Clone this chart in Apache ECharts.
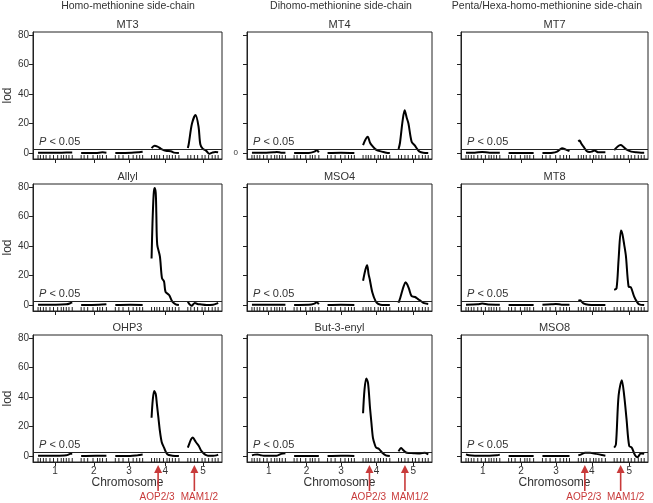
<!DOCTYPE html>
<html>
<head>
<meta charset="utf-8">
<script src="https://cdn.jsdelivr.net/npm/echarts@6.0.0/dist/echarts.min.js"></script>
<style>
  html, body { margin: 0; padding: 0; background: #fff; }
  #main { width: 653px; height: 503px; }
</style>
</head>
<body>
<div id="main"></div>
<script>
// chromosome layout (cM)
const chrLengths = [115, 85, 92, 92, 102];
const chrGap = 30;
const chrLabels = ['1', '2', '3', '4', '5'];
// marker positions along each chromosome (cM)
const markerPos = [
  [0, 8, 18, 27, 40, 52, 66, 78, 86, 95, 104, 115],
  [0, 10, 22, 40, 55, 63, 72, 85],
  [0, 12, 26, 45, 60, 72, 82, 92],
  [0, 10, 18, 27, 40, 52, 60, 70, 80, 92],
  [0, 10, 22, 33, 48, 58, 70, 82, 92, 102]
];
const groupTitles = ['Homo-methionine side-chain', 'Dihomo-methionine side-chain', 'Penta/Hexa-homo-methionine side-chain'];
const traitNames = ['MT3', 'MT4', 'MT7', 'Allyl', 'MSO4', 'MT8', 'OHP3', 'But-3-enyl', 'MSO8'];
const lodTicks = [0, 20, 40, 60, 80];
const threshold = 2.3;
const geneNames = ['AOP2/3', 'MAM1/2'];
const geneChr = [4, 5];
const genePos = [22, 22];

// lod profiles: per chromosome, [cM, lod]
const lodMT3 = [
  [[0, 0.3], [40, 0.2], [80, 0.3], [115, 0.4]],
  [[0, 0], [50, 0.1], [72, 0.5], [85, 0.3]],
  [[0, 0], [55, 0.2], [80, 0.6], [92, 0.9]],
  [[0, 3.4], [10, 5], [20, 4.4], [31, 3], [48, 1.5], [65, 1.3], [75, 0.3], [92, 0]],
  [[0, 3.5], [3, 6], [14, 20], [26, 25.8], [36, 18], [42, 6], [50, 3], [62, 1.5], [72, -0.5], [82, 0.3], [92, 0.8], [102, 0.6]]
];
const lodMT4 = [
  [[0, 0.2], [50, 0.2], [75, 0.5], [85, 0.8], [100, 0.3], [115, 0.3]],
  [[0, 0], [50, 0.1], [70, 1], [78, 2], [85, 0.5]],
  [[0, 0], [46, 0.2], [92, 0]],
  [[0, 5.4], [8, 9], [16, 11], [24, 7], [31, 5], [43, 2.5], [55, 1.5], [65, 1], [80, 0.2], [92, 0]],
  [[0, 2.7], [5, 7], [14, 22], [21, 29], [28, 24], [34, 20], [45, 7.7], [55, 5.4], [65, 2.5], [72, 1], [85, 0.2], [102, 0]]
];
const lodMT7 = [
  [[0, 0.3], [30, 0.3], [55, 0.8], [80, 0.3], [115, 0.3]],
  [[0, 0.1], [40, 0], [85, 0]],
  [[0, 0], [35, 0.2], [50, 1], [60, 2.5], [67, 3.3], [78, 2.5], [92, 1.3]],
  [[0, 7.9], [4, 8.5], [10, 6.5], [17, 4.5], [28, 1.5], [38, 0.8], [45, 1], [55, 1.8], [68, 0.5], [92, 0.5]],
  [[0, 2], [12, 4.5], [22, 5.4], [30, 4.5], [41, 2.5], [58, 1], [75, 0.5], [92, 0.3], [102, 0.3]]
];
const lodAllyl = [
  [[0, 0.2], [60, 0.2], [95, 0.5], [108, 1.2], [115, 1.8]],
  [[0, 0], [60, 0.2], [85, 0.5]],
  [[0, 0], [50, 0.2], [92, 0.1]],
  [[0, 31.5], [3, 55], [7, 75], [10, 79.3], [14, 76], [16, 62], [19, 41], [28, 33], [35, 18.3], [42, 16], [47, 9], [59, 6.8], [70, 2.3], [81, 0.5], [92, 0]],
  [[0, 2.3], [6, 0.5], [12, -0.5], [18, 0.5], [24, 1.4], [32, 0.8], [41, 0.5], [63, 0], [85, 0.3], [97, 1], [102, 1.5]]
];
const lodMSO4 = [
  [[0, 0.3], [60, 0.3], [115, 0.3]],
  [[0, 0.1], [50, 0.2], [70, 1], [78, 2], [85, 0.6]],
  [[0, 0], [46, 0.2], [92, 0.1]],
  [[0, 16.5], [8, 24], [14, 27], [19, 21], [23, 17.5], [32, 8.5], [43, 2.7], [52, 0.8], [60, 0.3], [92, 0]],
  [[0, 1.6], [6, 5], [11, 8.5], [18, 13], [24, 15.4], [30, 14], [36, 11], [45, 6], [57, 5.5], [67, 4], [74, 3.2], [85, 1.5], [102, 0.8]]
];
const lodMT8 = [
  [[0, 0.3], [40, 0.5], [55, 1], [75, 0.4], [115, 0.3]],
  [[0, 0], [42, 0.1], [85, 0]],
  [[0, 0.2], [30, 0.5], [45, 0.8], [65, 0.3], [92, 0.2]],
  [[0, 3], [6, 3.2], [17, 1.2], [34, 0.3], [92, 0]],
  [[0, 10.3], [8, 11.4], [15, 31], [23, 50.5], [28, 48], [34, 41], [40, 33], [49, 12.5], [57, 12], [68, 5.7], [78, 2], [85, 0.5], [102, 0]]
];
const lodOHP3 = [
  [[0, 0.2], [60, 0.2], [95, 0.5], [108, 1.5], [115, 1.6]],
  [[0, 0], [50, 0.2], [85, 0.2]],
  [[0, 0], [50, 0.1], [75, 0.6], [92, 1]],
  [[0, 26], [4, 38], [9, 44], [14, 42], [18, 35], [23, 26], [28, 17], [34, 9.6], [42, 5.7], [53, 1.2], [70, 0.3], [92, 0]],
  [[0, 5.7], [6, 9], [11, 11.4], [17, 12.6], [24, 10.5], [28, 9.2], [37, 6.9], [44, 4], [51, 2.3], [60, 0.8], [68, 0.3], [85, 0.2], [96, 0.5], [102, 1]]
];
const lodBut3enyl = [
  [[0, 0.5], [10, 1], [19, 1.1], [30, 0.6], [41, 0.2], [85, 0.3], [101, 1.5], [115, 2]],
  [[0, 0], [42, 0.1], [85, 0]],
  [[0, 0], [46, 0.3], [70, 0.2], [92, 0]],
  [[0, 29], [5, 45], [11, 52.5], [17, 49.6], [24, 32.4], [29, 22], [34, 12.3], [40, 8], [45, 5.7], [54, 5], [66, 2.3], [78, 0.5], [92, 0]],
  [[0, 3.2], [9, 5.5], [17, 3.9], [28, 2.3], [51, 2], [74, 1.8], [91, 2.3], [102, 1]]
];
const lodMSO8 = [
  [[0, 1.2], [10, 0.6], [30, 0.3], [80, 0.3], [105, 0.6], [115, 1]],
  [[0, 0], [42, 0.1], [85, 0]],
  [[0, 0], [46, 0.1], [92, 0]],
  [[0, 0.5], [10, 1.2], [23, 2.3], [40, 2.3], [61, 1.5], [80, 0.8], [92, 0.3]],
  [[0, 5.7], [6, 8], [15, 41], [26, 51.4], [34, 41], [42, 25], [51, 6.9], [60, 5.7], [71, 0.5], [79, -0.7], [91, 1.8], [102, 1.5]]
];
const traitLods = [lodMT3, lodMT4, lodMT7, lodAllyl, lodMSO4, lodMT8, lodOHP3, lodBut3enyl, lodMSO8];

// layout
const font = 'Liberation Sans, Arial, sans-serif';
const textCol = '#333';
const red = '#c83a3a';
const gridLeft = [33, 247, 461];
const gridWidth = [189, 185, 187];
const gridTop = [32, 184, 335];
const gridHeight = 127;
const groupTitleX = [128, 341, 547];
const xMin = -17, xMax = 619, yMin = -4, yMax = 82;

// chromosome offsets on the shared x scale
const chrStart = [];
let acc = 0;
chrLengths.forEach((len, i) => { chrStart.push(acc); acc += len + chrGap; });
const chrMid = chrLengths.map((len, i) => chrStart[i] + len / 2);
const rugData = [];
markerPos.forEach((ms, i) => ms.forEach(m => rugData.push([chrStart[i] + m, yMin])));
const geneData = geneNames.map((g, i) => [chrStart[geneChr[i] - 1] + genePos[i], yMin, g]);

const chart = echarts.init(document.getElementById('main'));

const grids = [], xAxes = [], yAxes = [], series = [], titles = [];

groupTitles.forEach((t, c) => {
  titles.push({
    text: t, left: groupTitleX[c], top: 1, textAlign: 'center', padding: 0,
    textStyle: { fontSize: 10.5, fontWeight: 'normal', color: textCol, fontFamily: font }
  });
});

traitNames.forEach((name, p) => {
  const row = Math.floor(p / 3), col = p % 3;
  grids.push({
    left: gridLeft[col], top: gridTop[row], width: gridWidth[col], height: gridHeight,
    show: true, borderColor: '#222', borderWidth: 1, backgroundColor: 'transparent'
  });
  titles.push({
    text: name, left: gridLeft[col] + gridWidth[col] / 2, top: gridTop[row] - 13, textAlign: 'center', padding: 0,
    textStyle: { fontSize: 11, fontWeight: 'normal', color: textCol, fontFamily: font }
  });
  xAxes.push({
    type: 'value', gridIndex: p, min: xMin, max: xMax,
    axisLine: { show: true, onZero: false, lineStyle: { color: '#222' } },
    splitLine: { show: false },
    axisTick: { show: true, customValues: chrMid, length: 4, lineStyle: { color: '#222' } },
    axisLabel: {
      show: row === 2, customValues: chrMid, margin: 4, fontSize: 10, color: textCol, fontFamily: font,
      formatter: v => chrLabels[chrMid.findIndex(m => Math.abs(m - v) < 0.01)]
    },
    name: row === 2 ? 'Chromosome' : '', nameLocation: 'middle', nameGap: 15,
    nameTextStyle: { fontSize: 12, color: textCol, fontFamily: font }
  });
  const specialZero = (p === 1);
  yAxes.push({
    type: 'value', gridIndex: p, min: yMin, max: yMax,
    axisLine: { show: true, onZero: false, lineStyle: { color: '#222' } },
    splitLine: { show: false },
    axisTick: { show: true, customValues: lodTicks, length: 4, lineStyle: { color: '#222' } },
    axisLabel: {
      show: col === 0 || specialZero,
      customValues: specialZero ? [0] : lodTicks,
      margin: specialZero ? 9 : 4, fontSize: specialZero ? 8 : 10, color: textCol, fontFamily: font
    },
    name: col === 0 ? 'lod' : '', nameLocation: 'middle', nameGap: 10, nameRotate: 90,
    nameTextStyle: { fontSize: 12, color: textCol, fontFamily: font }
  });

  traitLods[p].forEach((pts, c) => {
    const s = {
      type: 'line', xAxisIndex: p, yAxisIndex: p,
      data: pts.map(d => [chrStart[c] + d[0], d[1]]),
      showSymbol: false, symbol: 'none', smooth: 0.3,
      lineStyle: { color: '#000', width: 2 }, silent: true, z: 3
    };
    if (c === 0) {
      s.markLine = {
        silent: true, symbol: 'none',
        lineStyle: { color: '#222', width: 1, type: 'solid' },
        label: {
          show: true, position: 'insideStartTop', distance: [6, 2],
          formatter: '{i|P} < 0.05',
          fontSize: 11, color: textCol, fontFamily: font,
          rich: { i: { fontStyle: 'italic', fontSize: 11, color: textCol, fontFamily: font } }
        },
        data: [{ yAxis: threshold }]
      };
    }
    series.push(s);
  });

  // marker rug along the bottom of each panel
  series.push({
    type: 'custom', xAxisIndex: p, yAxisIndex: p, data: rugData, silent: true,
    renderItem: (params, api) => {
      const pt = api.coord([api.value(0), api.value(1)]);
      return { type: 'line', shape: { x1: pt[0], y1: pt[1], x2: pt[0], y2: pt[1] - 4 }, style: { stroke: '#222', lineWidth: 1 } };
    }
  });

  // gene arrows under bottom row
  if (row === 2) {
    series.push({
      type: 'custom', xAxisIndex: p, yAxisIndex: p, data: geneData, clip: false, silent: true, z: 5,
      renderItem: (params, api) => {
        const pt = api.coord([api.value(0), api.value(1)]);
        const x = pt[0], y = pt[1];
        const dx = params.dataIndex === 1 ? 5 : -1;
        return {
          type: 'group',
          children: [
            { type: 'line', shape: { x1: x, y1: y + 9, x2: x, y2: y + 29 }, style: { stroke: red, lineWidth: 1.6 } },
            { type: 'polygon', shape: { points: [[x, y + 3], [x - 4, y + 11], [x + 4, y + 11]] }, style: { fill: red } },
            { type: 'text', style: { text: api.value(2), x: x + dx, y: y + 35, align: 'center', verticalAlign: 'middle', fill: red, font: '10px ' + font } }
          ]
        };
      }
    });
  }
});

chart.setOption({
  animation: false,
  title: titles,
  grid: grids,
  xAxis: xAxes,
  yAxis: yAxes,
  series: series
});
</script>
</body>
</html>
